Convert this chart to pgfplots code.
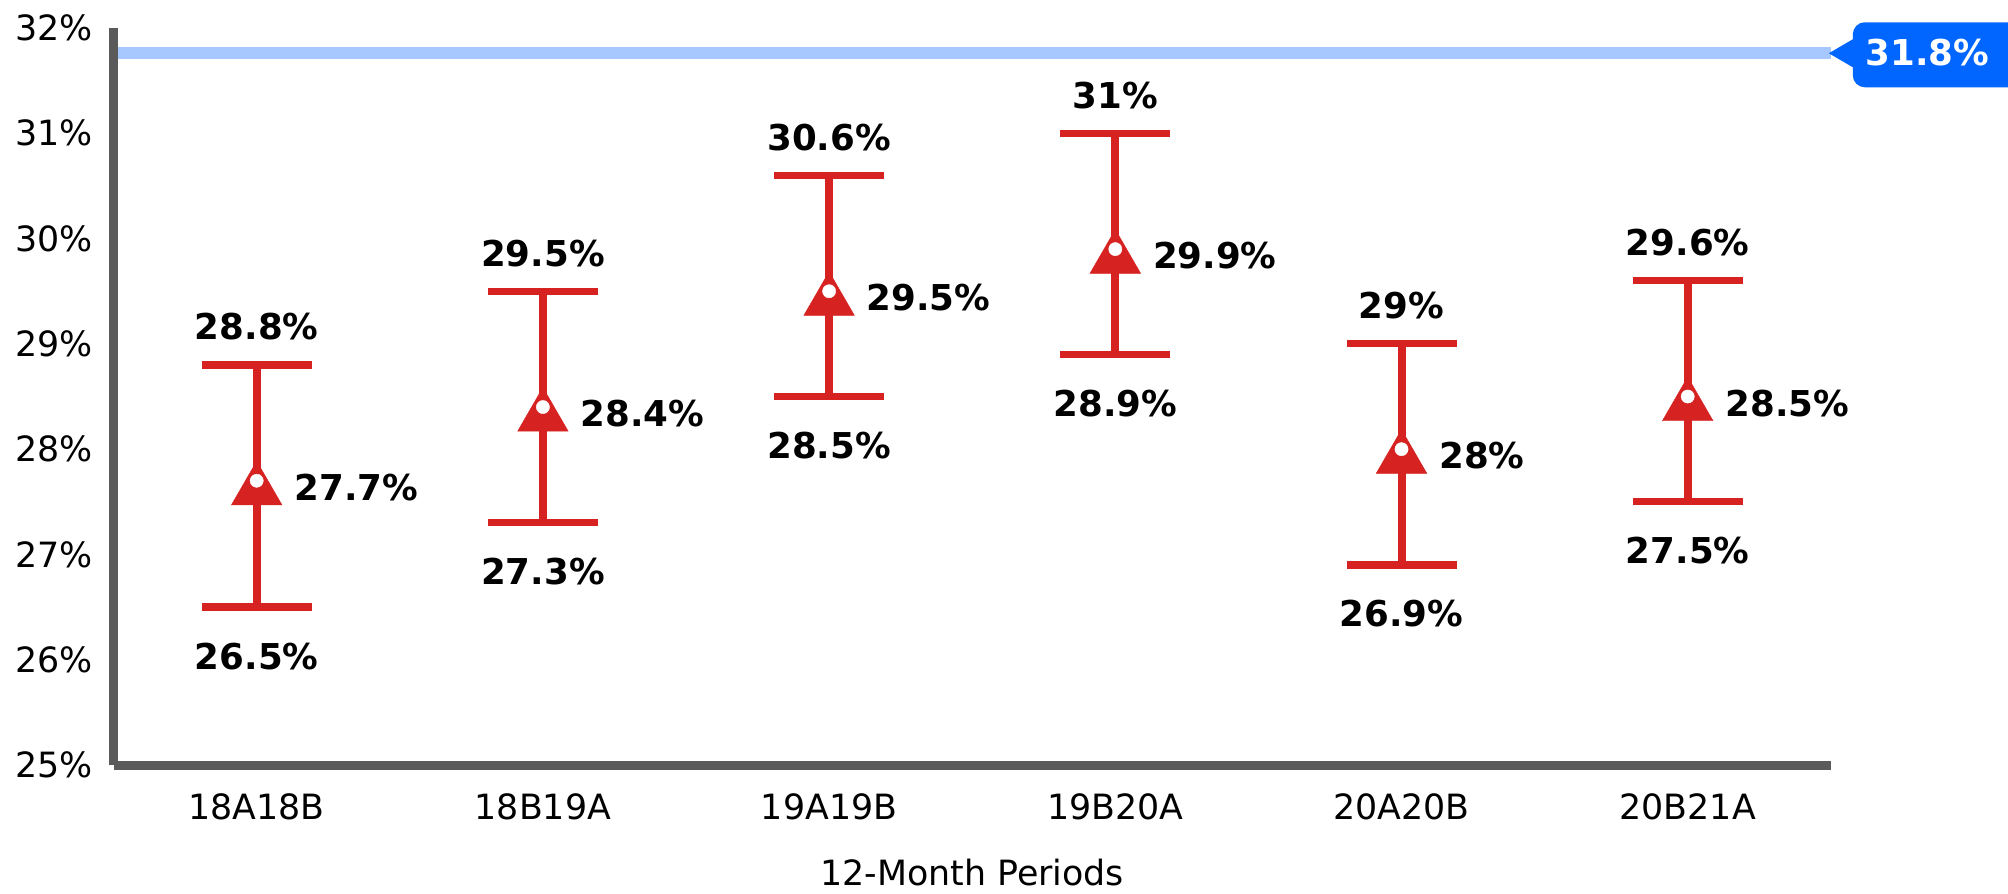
\documentclass[border=0pt]{standalone}
\usepackage{fontspec}
\setmainfont{DejaVu Sans}
\usepackage{pgfplots}
\pgfplotsset{compat=1.18}
\usepackage{pgfplotstable}
\definecolor{barred}{HTML}{D72222}
\definecolor{axisgrey}{HTML}{5A5A5A}
\definecolor{linecol}{HTML}{A6C8FF}
\definecolor{boxblue}{HTML}{0066FF}
\pgfplotstableread{
x y hi lo
0 27.7 28.8 26.5
1 28.4 29.5 27.3
2 29.5 30.6 28.5
3 29.9 31.0 28.9
4 28.0 29.0 26.9
5 28.5 29.6 27.5
}\data
\begin{document}
\begin{tikzpicture}
\begin{axis}[name=ax, scale only axis, width=429.3pt, height=184.25pt,
  xmin=-0.5, xmax=5.5, ymin=25, ymax=32,
  axis lines=left, axis on top,
  axis line style={draw=axisgrey, line width=2.25pt, -},
  xtick={0,1,2,3,4,5},
  xticklabels={18A18B,18B19A,19A19B,19B20A,20A20B,20B21A},
  ytick={25,26,...,32},
  yticklabel={\pgfmathprintnumber{\tick}\%},
  /pgf/number format/assume math mode=true,
  major tick length=0pt,
  tick label style={font=\fontsize{8.7}{10}\selectfont, text=black},
  xticklabel style={anchor=base, inner sep=0pt, yshift=-13.5pt},
  yticklabel style={anchor=east, inner sep=0pt, xshift=-5pt},
  xlabel={12-Month Periods},
  xlabel style={at={(axis description cs:0.5,0)}, anchor=base, inner sep=0pt, yshift=-30pt, font=\fontsize{8.7}{10}\selectfont},
  clip=false,
  every node near coord/.append style={font=\fontsize{8.9}{10}\selectfont\bfseries, text=black, inner sep=0pt},
]
% reference line
\addplot[linecol, line width=3pt, forget plot] coordinates {(-0.5,31.76) (5.5,31.76)};
\coordinate (tip) at (axis cs:5.5,31.76);
% error bars with triangle markers
\addplot[barred, only marks, mark=triangle*, mark size=7.3pt,
  mark options={fill=barred, draw=barred, line width=0.1pt, yshift=-2.4pt},
  error bars/.cd, y dir=both, y explicit,
  error bar style={line width=2pt, barred},
  error mark options={rotate=90, mark size=13.75pt, line width=1.8pt, barred}]
  table[x=x, y=y, y error plus expr=\thisrow{hi}-\thisrow{y}, y error minus expr=\thisrow{y}-\thisrow{lo}] {\data};
% white dots
\addplot[white, only marks, mark=*, mark size=1.65pt, mark options={fill=white, draw=white, line width=0.1pt}] table[x=x, y=y] {\data};
% labels: upper
\addplot[draw=none, mark=none, point meta=explicit,
  nodes near coords={\pgfmathprintnumber[fixed,precision=1]{\pgfplotspointmeta}\%},
  every node near coord/.append style={anchor=base, yshift=6.25pt}]
  table[x=x, y=hi, meta=hi] {\data};
% labels: lower
\addplot[draw=none, mark=none, point meta=explicit,
  nodes near coords={\pgfmathprintnumber[fixed,precision=1]{\pgfplotspointmeta}\%},
  every node near coord/.append style={anchor=base, yshift=-15.5pt}]
  table[x=x, y=lo, meta=lo] {\data};
% labels: mean
\addplot[draw=none, mark=none, point meta=explicit,
  nodes near coords={\pgfmathprintnumber[fixed,precision=1]{\pgfplotspointmeta}\%},
  every node near coord/.append style={anchor=base west, xshift=9.25pt, yshift=-4.9pt}]
  table[x=x, y=y, meta=y] {\data};
\end{axis}
% callout
\fill[boxblue] ([xshift=-0.5pt]tip) -- ([xshift=5.5pt, yshift=3.5pt]tip) -- ([xshift=5.5pt, yshift=-3.5pt]tip) -- cycle;
\fill[boxblue, rounded corners=3pt] ([xshift=5.5pt, yshift=-8.5pt]tip) rectangle ([xshift=60pt, yshift=7.75pt]tip);
\node[anchor=base west, inner sep=0pt, text=white, font=\fontsize{8.9}{10}\selectfont\bfseries] at ([xshift=8.5pt, yshift=-3pt]tip) {31.8\%};
\pgfresetboundingbox
\path ([shift={(-28.4pt,-32pt)}]ax.south west) rectangle ([shift={(473.6pt,191.25pt)}]ax.south west);
\end{tikzpicture}
\end{document}
